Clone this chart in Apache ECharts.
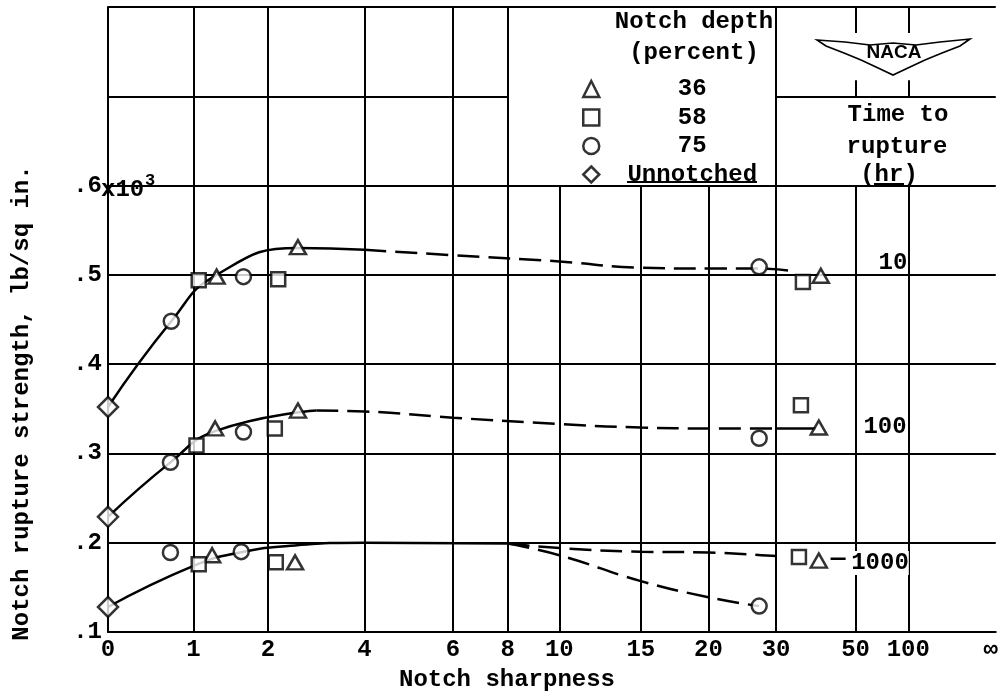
<!DOCTYPE html>
<html><head><meta charset="utf-8">
<script src="https://cdn.jsdelivr.net/npm/echarts@6/dist/echarts.min.js"></script>
<style>html,body{margin:0;padding:0;background:#fff}#c{width:1001px;height:695px}</style>
</head><body><div id="c"></div>
<script>
// ---- axis definitions ----
const xTickLabels = ['0','1','2','4','6','8','10','15','20','30','50','100','\u221e'];
const xTickValues = [0,1,2,4,6,8,10,15,20,30,50,100];
// non-uniform scale of the original figure: position of each tick along the axis
const xScalePos = [0,86,161,258,347,402,454,536,604,672,752,805,888];
const yTicks = [0.1,0.2,0.3,0.4,0.5,0.6,0.7,0.8];

// ---- measured points (notch sharpness, strength x10^3 psi) ----
const depth36 = [[1.31,0.498],[2.62,0.531],[41.25,0.499],[1.29,0.328],[2.62,0.348],[40.75,0.329],[1.25,0.186],[2.56,0.178],[40.75,0.180]];
const depth58 = [[1.07,0.494],[2.21,0.495],[36.75,0.492],[1.04,0.309],[2.14,0.328],[36.25,0.354],[1.07,0.176],[2.16,0.178],[35.75,0.184]];
const depth75 = [[0.74,0.448],[1.67,0.498],[27.5,0.509],[0.73,0.290],[1.67,0.324],[27.5,0.317],[0.73,0.189],[1.64,0.190],[27.5,0.129]];
const unnotched = [[0,0.352],[0,0.229],[0,0.128]];

// ---- faired curves ----
const curve10Solid = [[0,0.352],[0.74,0.448],[1.29,0.499],[2.62,0.530],[4,0.528]];
const curve10Dashed = [[4,0.528],[6,0.522],[10,0.515],[15,0.508],[20,0.507],[27.5,0.507],[33,0.505]];
const curve100Solid = [[0,0.229],[0.73,0.290],[1.29,0.325],[3,0.348]];
const curve100Dashed = [[3,0.348],[4,0.347],[6,0.340],[10,0.333],[15,0.329],[20,0.328],[30,0.328]];
const curve100Lead = [[30,0.328],[40,0.328]];
const curve1000Solid = [[0,0.128],[1,0.174],[1.62,0.189],[2.56,0.197],[4,0.2],[8,0.199]];
const curve1000Upper = [[8,0.199],[10,0.194],[15,0.19],[20,0.189],[30,0.185]];
const curve1000Lower = [[8,0.199],[10,0.186],[15,0.157],[20,0.139],[27.5,0.129]];
const curve1000Lead = [[43.7,0.182],[47.5,0.182]];

const timeLabels = ['10','100','1000'];

function toU(v){
  for (let i=1;i<xTickValues.length;i++){
    if (v<=xTickValues[i]){
      const a=xTickValues[i-1], b=xTickValues[i];
      return xScalePos[i-1]+(v-a)/(b-a)*(xScalePos[i]-xScalePos[i-1]);
    }
  }
  return xScalePos[xTickValues.length-1];
}
const conv = pts => pts.map(p=>[toU(p[0]),p[1]]);
const FONT = 'Liberation Mono';
const XMAX = 893;

// grid segments (paper grid of the original figure)
const gridSegs = [];
const U = i => xScalePos[i];
[1,2,3,4,5,9].forEach(i=>gridSegs.push([[U(i),0.1],[U(i),0.8]]));
[6,7,8].forEach(i=>gridSegs.push([[U(i),0.1],[U(i),0.6]]));
[10,11].forEach(i=>{
  gridSegs.push([[U(i),0.1],[U(i),0.6]]);
  gridSegs.push([[U(i),0.7],[U(i),0.718]]);
  gridSegs.push([[U(i),0.771],[U(i),0.8]]);
});
yTicks.forEach(y=>{
  if (y===0.1) return;
  if (Math.abs(y-0.7)<1e-9){
    gridSegs.push([[0,y],[U(5),y]]);
    gridSegs.push([[U(9),y],[XMAX,y]]);
  } else gridSegs.push([[0,y],[XMAX,y]]);
});

function curve(pts, dashed){
  return {type:'line', data: conv(pts), smooth:0.5, symbol:'none', silent:true, z:3,
    lineStyle:{color:'#000', width:2.5, type: dashed?[22,9]:'solid'}};
}
const mk = {color:'#fff', borderColor:'#000', borderWidth:2.5};
const txt = (text, x, y, extra) => Object.assign({type:'text', x, y, style:Object.assign({text, font:'bold 24px "Liberation Mono"', fill:'#000', textAlign:'center', textVerticalAlign:'middle'}, extra||{})});

const chart = echarts.init(document.getElementById('c'), null, {renderer:'canvas'});
chart.setOption({
  backgroundColor:'#fff',
  animation:false,
  grid:{left:108, right:0, top:7, bottom:63, containLabel:false},
  xAxis:{type:'value', min:0, max:XMAX,
    axisLine:{show:true, onZero:false, lineStyle:{color:'#000', width:2}},
    axisTick:{show:false}, splitLine:{show:false},
    axisLabel:{customValues:xScalePos, showMinLabel:true, showMaxLabel:true, margin:6,
      formatter:v=>{const i=xScalePos.indexOf(v); return i>=0?xTickLabels[i]:'';},
      color:'#000', fontFamily:FONT, fontSize:24, fontWeight:'bold'}},
  yAxis:{type:'value', min:0.1, max:0.8, interval:0.1,
    axisLine:{show:true, onZero:false, lineStyle:{color:'#000', width:2}},
    axisTick:{show:false}, splitLine:{show:false},
    axisLabel:{margin:6, color:'#000', fontFamily:FONT, fontSize:24, fontWeight:'bold',
      formatter:v=>{const k=Math.round(v*10); return k<=6?'.'+k:'';}}},
  legend:{orient:'vertical', left:577, top:72, itemWidth:16, itemHeight:16, itemGap:4.5,
    selectedMode:false, data:['36','58','75','Unnotched'],
    itemStyle:{color:'#fff', borderColor:'#000', borderWidth:2.5},
    formatter:n=>'{t|'+n+'}',
    textStyle:{rich:{t:{width:176, align:'center', height:24, lineHeight:24, fontFamily:FONT, fontSize:24, fontWeight:'bold', color:'#000'}}}},
  series:[
    {type:'lines', coordinateSystem:'cartesian2d', polyline:false, silent:true, z:1,
      lineStyle:{color:'#000', width:2, opacity:1}, data: gridSegs.map(s=>({coords:s}))},
    curve(curve10Solid,false), curve(curve10Dashed,true),
    curve(curve100Solid,false), curve(curve100Dashed,true), curve(curve100Lead,false),
    curve(curve1000Solid,false), curve(curve1000Upper,true), curve(curve1000Lower,true), curve(curve1000Lead,false),
    {name:'36', type:'scatter', symbol:'triangle', symbolSize:[16,14], data:conv(depth36), itemStyle:mk, z:5},
    {name:'58', type:'scatter', symbol:'rect', symbolSize:14, data:conv(depth58), itemStyle:mk, z:5},
    {name:'75', type:'scatter', symbol:'circle', symbolSize:15, data:conv(depth75), itemStyle:mk, z:5},
    {name:'Unnotched', type:'scatter', symbol:'diamond', symbolSize:[20,20], data:conv(unnotched), itemStyle:mk, z:5}
  ],
  graphic:[
    txt('Notch depth', 694, 22),
    txt('(percent)', 694, 53),
    {type:'line', shape:{x1:627, y1:182, x2:757, y2:182}, style:{stroke:'#000', lineWidth:2}},
    txt('Time to', 898, 115),
    txt('rupture', 897, 147),
    txt('(hr)', 889, 175),
    {type:'line', shape:{x1:874, y1:184, x2:904, y2:184}, style:{stroke:'#000', lineWidth:2}},
    txt('x10', 101, 190, {textAlign:'left'}),
    txt('3', 145, 181, {textAlign:'left', font:'bold 17px "Liberation Mono"'}),
    txt(timeLabels[0], 893, 263),
    txt(timeLabels[1], 885, 427),
    Object.assign(txt(timeLabels[2], 880, 563, {backgroundColor:'#fff'}), {z:10}),
    txt('Notch sharpness', 507, 680),
    Object.assign(txt('Notch rupture strength, lb/sq in.', 22, 403), {rotation:Math.PI/2}),
    {type:'polygon', shape:{points:[[817,40],[845,42],[870,45],[893,43],[916,45],[940,42],[970,39],[960,46],[942,53],[925,60],[910,67],[893,75],[876,67],[861,60],[844,53],[826,46]]},
      style:{fill:'#fff', stroke:'#000', lineWidth:1.6}},
    {type:'text', x:894, y:53, style:{text:'NACA', font:'bold 19px "Liberation Sans"', fill:'#000', textAlign:'center', textVerticalAlign:'middle'}}
  ]
});
</script></body></html>
